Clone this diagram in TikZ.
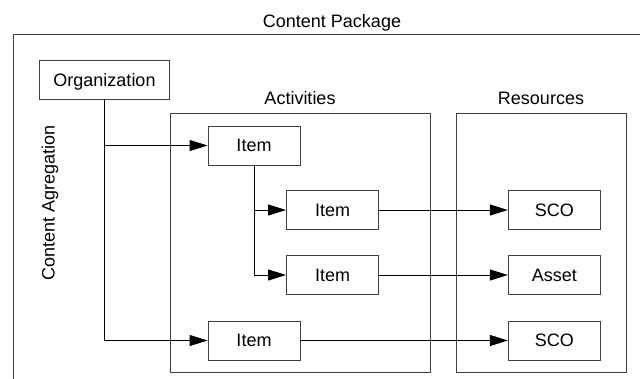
\documentclass[tikz,border=0pt]{standalone}
\usepackage{fontspec}
\setmainfont{Liberation Sans}
\usetikzlibrary{arrows.meta}
\begin{document}
\begin{tikzpicture}[x=1pt,y=-1pt,
  font=\fontsize{18}{20}\selectfont,
  frame/.style={draw=black!75, line width=0.9pt},
  box/.style={frame, minimum width=92pt, minimum height=39pt, inner sep=0pt,
              text height=12.9pt, text depth=0pt},
  lbl/.style={anchor=base, inner sep=0pt},
  link/.style={line width=0.9pt, -{Triangle[length=18pt,width=11pt]}}]
\useasboundingbox (0,0) rectangle (640,378);

% package frame (runs past the right and bottom edges)
\draw[frame] (13,380) -- (13,34) -- (642,34);
\node[lbl] (pkg) at (332,27) {Content Package};
\node[lbl, rotate=90] (agg) at (54.7,203) {Content Agregation};

% group frames
\draw[frame] (170,113) rectangle (430.5,372.5);
\draw[frame] (456.5,113) rectangle (626,372.5);
\node[lbl] (act) at (300,104.5) {Activities};
\node[lbl] (res) at (541,104.5) {Resources};

% boxes
\node[box, minimum width=130pt] (org) at (104.5,80) {Organization};
\node[box] (i1) at (254,145.5) {Item};
\node[box] (i2) at (332.5,210) {Item};
\node[box] (i3) at (332.5,275) {Item};
\node[box] (i4) at (254,340.5) {Item};
\node[box] (s1) at (554.3,210) {SCO};
\node[box] (as) at (554.3,275) {Asset};
\node[box] (s2) at (554.3,340.5) {SCO};

% connectors
\draw[link] (org.south) |- (i1.west);
\draw[link] (org.south) |- (i4.west);
\draw[link] (i1.south) |- (i2.west);
\draw[link] (i1.south) |- (i3.west);
\draw[link] (i2.east) -- (s1.west);
\draw[link] (i3.east) -- (as.west);
\draw[link] (i4.east) -- (s2.west);
\end{tikzpicture}
\end{document}
